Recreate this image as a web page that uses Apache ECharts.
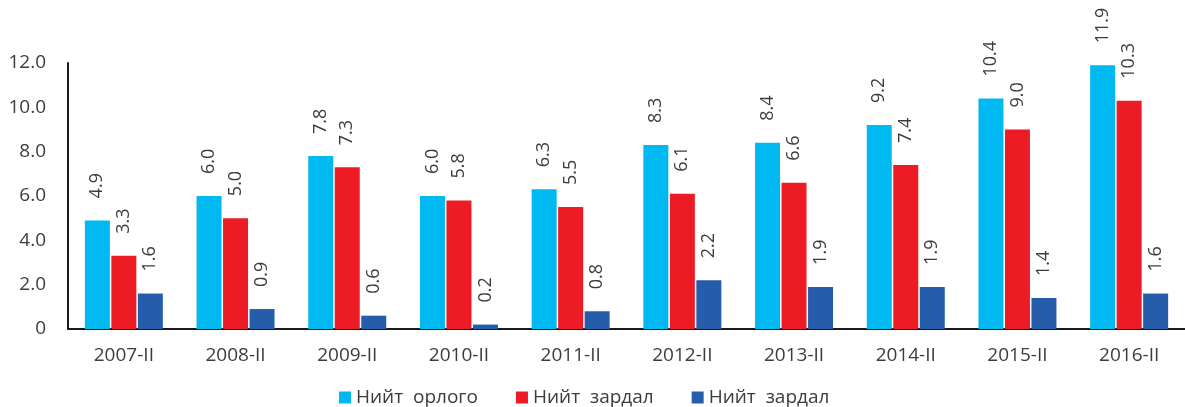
<!DOCTYPE html>
<html>
<head>
<meta charset="utf-8">
<script src="https://cdn.jsdelivr.net/npm/echarts@6/dist/echarts.min.js"></script>
<style>
  html, body { margin: 0; padding: 0; background: #fff; }
  #chart { width: 1185px; height: 407px; }
</style>
</head>
<body>
<div id="chart"></div>
<script>
// Half-year periods on the category axis
const periods = ['2007-II', '2008-II', '2009-II', '2010-II', '2011-II', '2012-II', '2013-II', '2014-II', '2015-II', '2016-II'];
// Series values
const revenue = [4.9, 6.0, 7.8, 6.0, 6.3, 8.3, 8.4, 9.2, 10.4, 11.9];
const expense = [3.3, 5.0, 7.3, 5.8, 5.5, 6.1, 6.6, 7.4, 9.0, 10.3];
const third = [1.6, 0.9, 0.6, 0.2, 0.8, 2.2, 1.9, 1.9, 1.4, 1.6];
// Series names shown in the legend
const seriesNames = ['Нийт  орлого', 'Нийт  зардал', 'Нийт  зардал '];
const colors = ['#00B9F1', '#ED1C24', '#265DAB'];

const textColor = '#3c3c3c';
const fontFamily = '"Open Sans", "Liberation Sans", sans-serif';

function barSeries(name, data, color) {
  return {
    name: name,
    type: 'bar',
    data: data,
    barWidth: 25,
    barGap: '6%',
    itemStyle: { color: color },
    label: {
      show: true,
      position: 'top',
      rotate: 90,
      align: 'left',
      verticalAlign: 'middle',
      distance: 22,
      color: textColor,
      fontSize: 18,
      fontFamily: fontFamily,
      formatter: p => p.value.toFixed(1)
    }
  };
}

const chart = echarts.init(document.getElementById('chart'));
chart.setOption({
  animation: false,
  color: colors,
  grid: { left: 68, right: 0, top: 63, bottom: 78 },
  legend: {
    top: 383,
    left: 334,
    itemWidth: 12,
    itemHeight: 12,
    itemGap: 38,
    icon: 'rect',
    textStyle: { color: textColor, fontSize: 19, fontFamily: fontFamily },
    data: [
      { name: seriesNames[0] },
      { name: seriesNames[1] },
      { name: seriesNames[2] }
    ]
  },
  xAxis: {
    type: 'category',
    data: periods,
    axisLine: { lineStyle: { color: '#1a1a1a', width: 2 } },
    axisTick: { show: false },
    axisLabel: { color: textColor, fontSize: 19, fontFamily: fontFamily, margin: 17 }
  },
  yAxis: {
    type: 'value',
    min: 0,
    max: 12,
    interval: 2,
    axisLine: { show: true, lineStyle: { color: '#1a1a1a', width: 2 } },
    axisTick: { show: false },
    splitLine: { show: false },
    axisLabel: {
      color: textColor,
      fontSize: 19,
      fontFamily: fontFamily,
      margin: 22,
      formatter: v => v === 0 ? '0' : v.toFixed(1)
    }
  },
  series: [
    barSeries(seriesNames[0], revenue, colors[0]),
    barSeries(seriesNames[1], expense, colors[1]),
    barSeries(seriesNames[2], third, colors[2])
  ]
});
</script>
</body>
</html>
